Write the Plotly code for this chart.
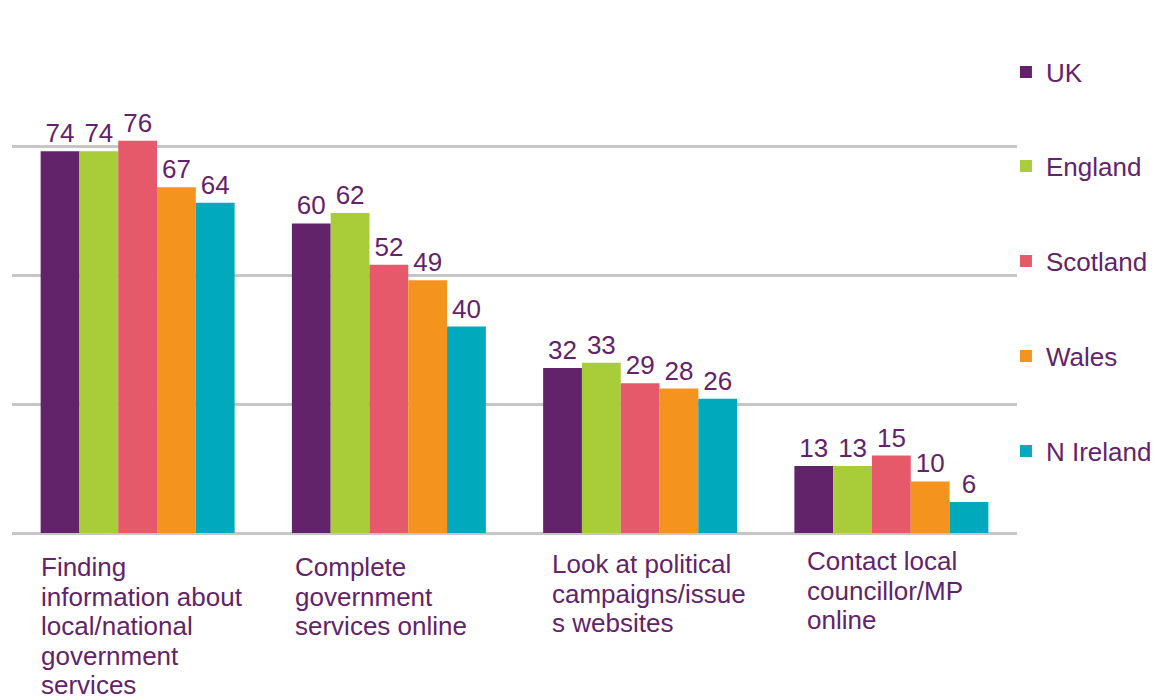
import plotly.graph_objects as go

# Share of adults (%) doing each government-related activity online
categories = [
    "Finding information about local/national government services",
    "Complete government services online",
    "Look at political campaigns/issues websites",
    "Contact local councillor/MP online",
]
category_labels = [
    ["Finding", "information about", "local/national", "government", "services"],
    ["Complete", "government", "services online"],
    ["Look at political", "campaigns/issue", "s websites"],
    ["Contact local", "councillor/MP", "online"],
]
nations = ["UK", "England", "Scotland", "Wales", "N Ireland"]
uk = [74, 60, 32, 13]
england = [74, 62, 33, 13]
scotland = [76, 52, 29, 15]
wales = [67, 49, 28, 10]
n_ireland = [64, 40, 26, 6]
series = [uk, england, scotland, wales, n_ireland]

colors = ["#62236a", "#a9cd38", "#e5596b", "#f5931f", "#00a9bc"]
text_color = "#62236a"
font_family = "Liberation Sans, Arial, sans-serif"

fig = go.Figure()
legend_ids = ["legend", "legend2", "legend3", "legend4", "legend5"]
for name, vals, col, lid in zip(nations, series, colors, legend_ids):
    fig.add_trace(go.Bar(
        x=categories,
        y=vals,
        name=name,
        marker=dict(color=col, line=dict(width=0)),
        text=[str(v) for v in vals],
        textposition="outside",
        textfont=dict(size=26, color=text_color, family=font_family),
        constraintext="none",
        cliponaxis=False,
        legend=lid,
    ))

# category labels, left-aligned under each bar group, one line at a time
label_xshift = [-2, 1, 7, 11]
label_first_line = [34, 34, 31, 28]   # px below the baseline
line_step = 29.5
for i, (lines, dx, y0) in enumerate(zip(category_labels, label_xshift, label_first_line)):
    for k, line in enumerate(lines):
        fig.add_annotation(
            x=i - 0.386, y=0, xref="x", yref="paper",
            text=line, showarrow=False, align="left",
            xanchor="left", yanchor="middle",
            xshift=dx, yshift=-(y0 + k * line_step),
            font=dict(size=26, color=text_color, family=font_family),
        )

# one legend per nation, stacked down the right-hand side
legend_y = [72, 166, 261, 356, 451]
layout_legends = {}
for lid, ypx in zip(legend_ids, legend_y):
    layout_legends[lid] = dict(
        x=0.989, xref="paper", xanchor="left",
        y=1 - (ypx - 17) / 516, yref="paper", yanchor="middle",
        font=dict(size=26, color=text_color, family=font_family),
        bgcolor="rgba(0,0,0,0)", borderwidth=0,
    )

fig.update_layout(
    width=1153, height=700,
    margin=dict(l=12, r=136, t=17, b=167, autoexpand=False),
    paper_bgcolor="white", plot_bgcolor="white",
    barmode="group", bargap=0.228, bargroupgap=0,
    showlegend=True,
    font=dict(family=font_family, color=text_color),
    xaxis=dict(showticklabels=False, showgrid=False, zeroline=False,
               showline=False, ticks=""),
    yaxis=dict(range=[0, 100], dtick=25, showticklabels=False,
               showgrid=True, gridcolor="#c6c6c6", gridwidth=2.5,
               zeroline=True, zerolinecolor="#c6c6c6", zerolinewidth=2.5,
               showline=False, ticks=""),
    **layout_legends,
)

fig.write_html("out.html")
